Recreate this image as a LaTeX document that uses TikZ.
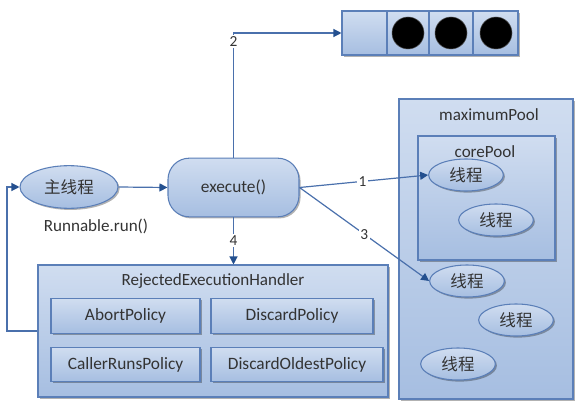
\documentclass[tikz,border=0pt]{standalone}
\usepackage{fontspec}
\setmainfont{Carlito}
\newfontfamily\cjk{Noto Sans CJK SC}
\usetikzlibrary{arrows.meta,shadows,shapes.geometric}
\definecolor{boxline}{HTML}{5B7FB8}
\definecolor{boxtop}{HTML}{D0DDF0}
\definecolor{boxbot}{HTML}{A6BEE1}
\definecolor{linkcol}{HTML}{4A70AC}
\definecolor{tipcol}{HTML}{24508F}
\definecolor{txtcol}{HTML}{333333}
\begin{document}
\begin{tikzpicture}[x=0.75pt,y=0.75pt,yscale=-1,xscale=1,
  box/.style={draw=boxline, line width=0.8pt, top color=boxtop, bottom color=boxbot,
    text=txtcol, drop shadow={shadow xshift=1.2pt, shadow yshift=-1.2pt, opacity=0.3, fill=black}},
  thread/.style={box, ellipse, minimum width=56pt, minimum height=24pt, inner sep=0pt,
    font=\cjk\fontsize{12.4}{14}\selectfont},
  policy/.style={box, rectangle, minimum height=26pt, inner sep=0pt, font=\fontsize{13}{15}\selectfont},
  caption/.style={text=txtcol, inner sep=0pt, font=\fontsize{12.8}{15}\selectfont},
  link/.style={draw=linkcol, line width=0.9pt, -{Triangle[length=6pt,width=6pt,color=tipcol]}},
  num/.style={fill=white, text=txtcol, inner sep=1.2pt, font=\fontsize{11.5}{13}\selectfont}]
\useasboundingbox (0,0) rectangle (584,417);

%Shape: Queue
\node[box, rectangle, minimum width=132pt, minimum height=33pt] (queue) at (430,33) {};
\draw[boxline, line width=0.8pt] (387,11) -- (387,55) (429,11) -- (429,55) (473,11) -- (473,55);
\foreach \cx in {408,451,496}
  \fill[black, draw=black!70] (\cx,33) circle (16);

%Shape: maximumPool
\node[box, rectangle, minimum width=130.5pt, minimum height=225pt] (maxpool) at (486,249) {};
% Text Node
\node[caption] (maxlabel) at (489,115) {maximumPool};

%Shape: corePool
\node[box, rectangle, minimum width=102.75pt, minimum height=93pt] (corepool) at (486.5,198) {};
% Text Node
\node[caption] (corelabel) at (485,152) {corePool};

%Shape: threads
\node[thread] (t1) at (466,175) {线程};
\node[thread] (t2) at (496,220) {线程};
\node[thread] (t3) at (467,281) {线程};
\node[thread] (t4) at (516,320) {线程};
\node[thread] (t5) at (458,364) {线程};

%Shape: main thread
\node[box, ellipse, minimum width=73.5pt, minimum height=32pt, inner sep=0pt,
  font=\cjk\fontsize{12.4}{14}\selectfont] (main) at (69,187) {主线程};
% Text Node
\node[caption] (runlabel) at (96,226) {Runnable.run()};

%Shape: execute
\node[box, rectangle, rounded corners=16pt, minimum width=98.25pt, minimum height=44pt,
  font=\fontsize{13}{15}\selectfont] (exec) at (233.5,187.5) {execute()};

%Shape: RejectedExecutionHandler
\node[box, rectangle, minimum width=262.5pt, minimum height=99pt] (reject) at (213,331) {};
% Text Node
\node[caption] (rejlabel) at (213,281) {RejectedExecutionHandler};
\node[policy, minimum width=111.75pt] (abort) at (125.5,316) {AbortPolicy};
\node[policy, minimum width=121.5pt] (discard) at (292,316) {DiscardPolicy};
\node[policy, minimum width=111.75pt] (caller) at (125.5,364.5) {CallerRunsPolicy};
\node[policy, minimum width=129pt] (oldest) at (297,364.5) {DiscardOldestPolicy};

%Connectors
\coordinate (back) at (7,331);
\draw[link] (main.east) -- (exec.west);
\draw[link] (exec.north) |- node[num, pos=0.465] {2} (queue.west);
\draw[link] (exec.east) -- node[num, pos=0.49] {1} (t1.west);
\draw[link] (exec.east) -- node[num, pos=0.5] {3} (t3.west);
\draw[link] (exec.south) -- node[num] {4} (exec.south |- reject.north);
\draw[link] (reject.west) -- (back) |- (main.west);

\end{tikzpicture}
\end{document}
